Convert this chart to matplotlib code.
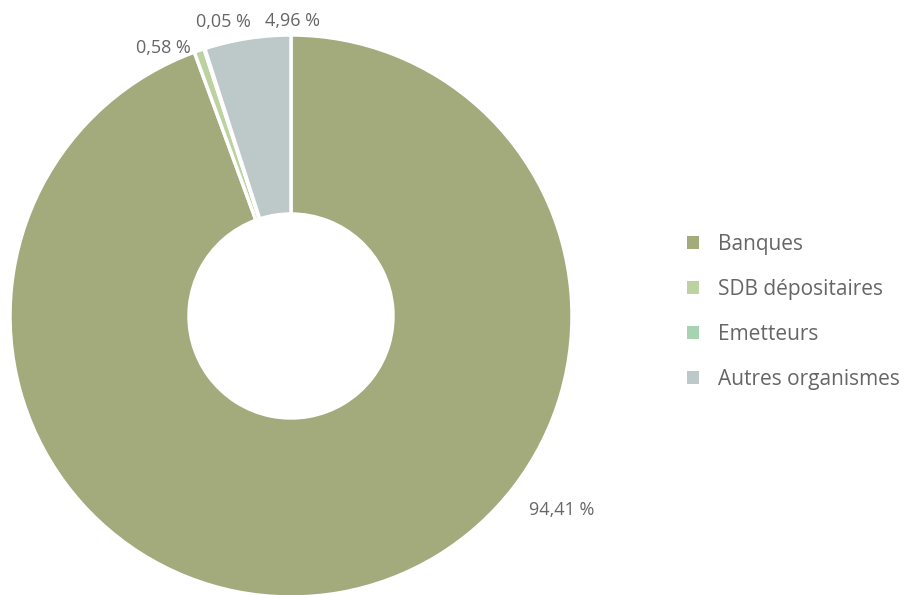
import matplotlib.pyplot as plt
from matplotlib.patches import Patch

plt.rcParams['font.family'] = ['Open Sans', 'DejaVu Sans']

categories = ["Banques", "SDB dépositaires", "Emetteurs", "Autres organismes"]
shares = [94.41, 0.58, 0.05, 4.96]
share_labels = ["94,41 %", "0,58 %", "0,05 %", "4,96 %"]
colours = ["#a3aa7c", "#bcd2a0", "#a6d4b3", "#bdc8c9"]

# label positions in pie units (radius 1)
label_pos = [(0.965, -0.69), (-0.455, 0.955), (-0.24, 1.045), (0.005, 1.05)]

fig = plt.figure(figsize=(9.09, 5.95), dpi=100)
ax = fig.add_axes([10 / 909, -2 / 595, 562 / 909, 562 / 595])

wedges, _ = ax.pie(shares, colors=colours, startangle=90, counterclock=False,
                   radius=1, wedgeprops=dict(width=0.637, edgecolor="white", linewidth=2.5))
ax.set_xlim(-1, 1)
ax.set_ylim(-1, 1)
ax.set_aspect("equal")
ax.axis("off")

for txt, (x, y) in zip(share_labels, label_pos):
    ax.text(x, y, txt, ha="center", va="center", fontsize=13, color="#666666")

handles = [Patch(facecolor=c, edgecolor="none") for c in colours]
fig.legend(handles, categories, loc="center left", bbox_to_anchor=(668 / 909, 1 - 312 / 595),
           frameon=False, fontsize=15, labelcolor="#666666", handlelength=0.6,
           handleheight=0.6, handletextpad=0.9, labelspacing=1.15)

plt.savefig("out.png", dpi=100)
